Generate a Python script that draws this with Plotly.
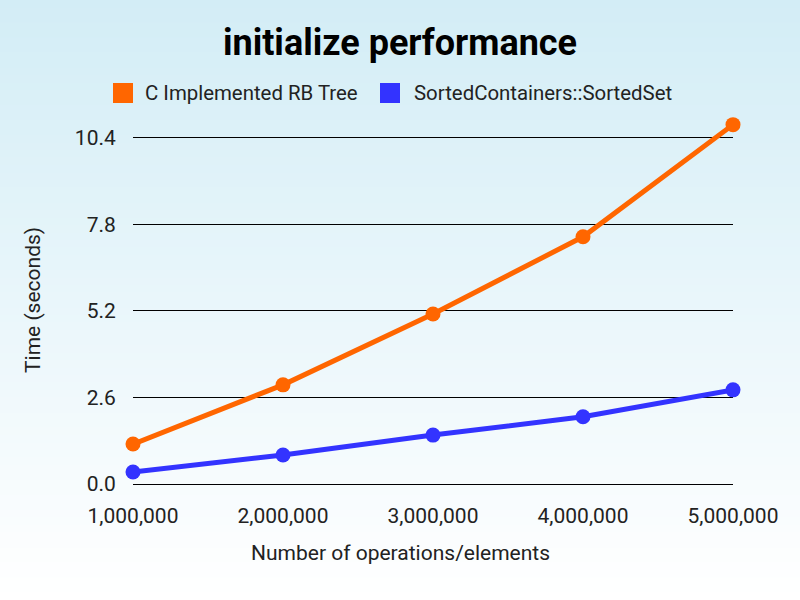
import plotly.graph_objects as go

# ---- data ----
operations = [1000000, 2000000, 3000000, 4000000, 5000000]
rb_tree_times = [1.20, 2.98, 5.11, 7.43, 10.80]
sorted_set_times = [0.36, 0.87, 1.47, 2.02, 2.83]
series_names = ["C Implemented RB Tree", "SortedContainers::SortedSet"]
series_colors = ["#ff6600", "#3333ff"]
y_ticks = [0.0, 2.6, 5.2, 7.8, 10.4]
x_ticks = [1000000, 2000000, 3000000, 4000000, 5000000]
x_title = "Number of operations/elements"
y_title = "Time (seconds)"
chart_title = "initialize performance"

W, H = 800, 600
Y_MAX = 11.0
L, R, B = 133, 67, 116
px_per_unit = (484 - 138) / 10.4
T = round(484 - Y_MAX * px_per_unit)
pw, ph = W - L - R, H - T - B

def px(xp):
    return (xp - L) / pw

def py(yp):
    return 1 - (yp - T) / ph

fig = go.Figure()
for name, ys, col in zip(series_names, [rb_tree_times, sorted_set_times], series_colors):
    fig.add_trace(go.Scatter(
        x=operations, y=ys, name=name, mode="lines+markers",
        line=dict(color=col, width=5), marker=dict(color=col, size=15),
        cliponaxis=False, showlegend=False))

# gradient background bands
shapes = []
n = 80
top = (211, 237, 246)
bot = (255, 255, 255)
y_lo, y_hi = py(H), py(0)
x_lo, x_hi = px(0), px(W)
for i in range(n):
    f = i / (n - 1)
    c = tuple(round(top[k] + (bot[k] - top[k]) * f) for k in range(3))
    y1 = y_hi - (y_hi - y_lo) * i / n
    y0 = y_hi - (y_hi - y_lo) * (i + 1) / n
    shapes.append(dict(type="rect", xref="paper", yref="paper", x0=x_lo, x1=x_hi,
                       y0=y0 - 0.002, y1=y1, fillcolor="rgb(%d,%d,%d)" % c,
                       line=dict(width=0), layer="below"))

# manual legend (squares + labels)
legend_items = [(113, 143), (380, 412)]
annotations = []
for (sx, tx), name, col in zip(legend_items, series_names, series_colors):
    shapes.append(dict(type="rect", xref="paper", yref="paper",
                       x0=px(sx), x1=px(sx + 20), y0=py(103), y1=py(83),
                       fillcolor=col, line=dict(width=0)))
    annotations.append(dict(xref="paper", yref="paper", x=px(tx), y=py(93),
                            text=name, showarrow=False, xanchor="left", yanchor="middle",
                            font=dict(family="Roboto", size=20.4, color="#222222")))

annotations.append(dict(xref="paper", yref="paper", x=px(400), y=py(553), text=x_title,
                        showarrow=False, xanchor="center", yanchor="middle",
                        font=dict(family="Roboto", size=21, color="#222222")))
annotations.append(dict(xref="paper", yref="paper", x=px(33), y=py(300), text=y_title,
                        showarrow=False, xanchor="center", yanchor="middle", textangle=-90,
                        font=dict(family="Roboto", size=21, color="#222222")))

fig.update_layout(
    width=W, height=H,
    margin=dict(l=L, r=R, t=T, b=B),
    paper_bgcolor="white", plot_bgcolor="rgba(0,0,0,0)",
    title=dict(text="<b>%s</b>" % chart_title, x=0.5, xref="container", xanchor="center",
               y=1 - 42 / H, yref="container", yanchor="middle",
               font=dict(family="Roboto", size=36, color="black")),
    font=dict(family="Roboto", size=21, color="#222222"),
    shapes=shapes, annotations=annotations,
    xaxis=dict(range=[1000000, 5000000], tickvals=x_ticks, tickformat=",",
               showgrid=False, zeroline=False, showline=False,
               ticks="outside", ticklen=13, tickcolor="rgba(0,0,0,0)"),
    yaxis=dict(range=[0, Y_MAX], tickvals=y_ticks, tickformat=".1f",
               showgrid=True, gridcolor="black", gridwidth=1,
               zeroline=True, zerolinecolor="black", zerolinewidth=1, showline=False,
               ticks="outside", ticklen=12, tickcolor="rgba(0,0,0,0)"),
)

fig.write_html("out.html")
